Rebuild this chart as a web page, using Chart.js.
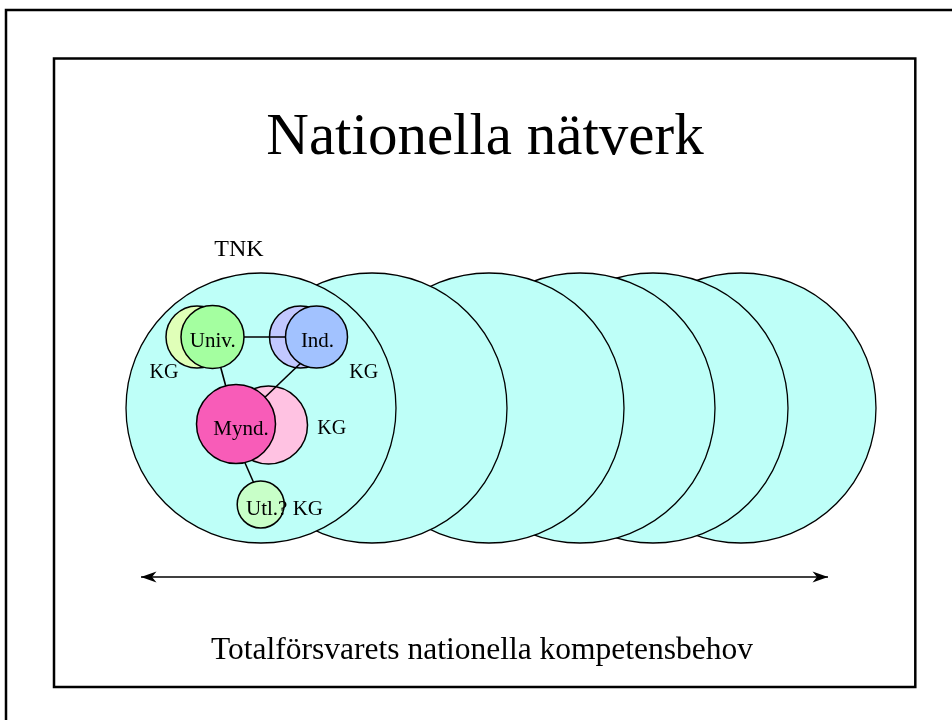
<!DOCTYPE html>
<html><head><meta charset="utf-8">
<script src="https://cdn.jsdelivr.net/npm/chart.js@4/dist/chart.umd.min.js"></script>
<style>html,body{margin:0;padding:0;background:#fff}canvas{display:block}</style>
</head><body>
<canvas id="c" width="952" height="720"></canvas>
<script>
// ---- Data (diagram coordinates, 1 unit = 1 px of a 952x720 slide) ----
// Large TNK competence circles, left to right
const tnkX = [261, 372, 489, 580, 653, 741];
const tnkY = [408, 408, 408, 408, 408, 408];
const tnkR = [135, 135, 135, 135, 135, 135];

// Competence-group circles behind the actors
const backNames = ['Univ. KG', 'Ind. KG', 'Mynd. KG'];
const backX = [197, 300.5, 268.5];
const backY = [337, 337, 425];
const backR = [31, 31, 39];

// Actor circles in front
const frontNames = ['Univ.', 'Ind.', 'Mynd.', 'Utl.?'];
const frontX = [212.5, 316.5, 236, 260.7];
const frontY = [337, 337, 424, 504.5];
const frontR = [31.5, 31, 39.5, 23.5];

// Links between actors
const linkFromX = [212.5, 212.5, 328, 228];
const linkFromY = [337, 337, 337, 424];
const linkToX = [316.5, 236, 237, 263];
const linkToY = [337, 424, 424, 504];

// Double arrow
const arrowX = [141, 828];
const arrowY = [577, 577];

// Text labels
const labelTexts = ['Nationella nätverk', 'TNK', 'Univ.', 'Ind.', 'Mynd.', 'KG', 'KG', 'KG', 'Utl.? KG', 'Totalförsvarets nationella kompetensbehov'];
const labelX = [485, 239, 212.7, 317.5, 241, 164, 363.7, 331.7, 246, 482];
const labelY = [154, 256, 347, 347, 435, 378, 378, 434, 515, 659];
const labelSize = [59, 24, 21, 21, 21, 20, 20, 20, 21, 31.5];
const labelAlign = ['center', 'center', 'center', 'center', 'center', 'center', 'center', 'center', 'left', 'center'];

// ---- Styles ----
const tnkColor = '#BEFFF8';
const backColors = ['#E0FFB8', '#C2C8FF', '#FFC2E2'];
const frontColors = ['#A4FFA0', '#A2C2FF', '#F85CB8', '#C8FFC8'];
const FONT = '"Liberation Serif", "Times New Roman", serif';

const pts = (xs, ys, rs) => xs.map((x, i) => ({x, y: ys[i], r: rs ? rs[i] : 0}));
const tnkPts = pts(tnkX, tnkY, tnkR).reverse(); // leftmost drawn last (on top)

const linkSets = linkFromX.map((x, i) => ({
  type: 'scatter', showLine: true, order: 3,
  data: [{x, y: linkFromY[i]}, {x: linkToX[i], y: linkToY[i]}],
  borderColor: '#000', borderWidth: 1.6, pointRadius: 0
}));

const decor = {
  id: 'decor',
  beforeDatasetsDraw(chart) {
    const {ctx, scales: {x, y}} = chart;
    ctx.save();
    ctx.strokeStyle = '#000';
    ctx.lineWidth = 2.5;
    // outer slide frame (runs off the right and bottom)
    ctx.strokeRect(x.getPixelForValue(6), y.getPixelForValue(10), 1000, 1000);
    // inner frame
    const l = x.getPixelForValue(54), t = y.getPixelForValue(58.5);
    ctx.strokeRect(l, t, x.getPixelForValue(915.3) - l, y.getPixelForValue(687) - t);
    ctx.restore();
  },
  afterDatasetsDraw(chart) {
    const {ctx, scales: {x, y}} = chart;
    ctx.save();
    // arrowheads
    ctx.fillStyle = '#000';
    for (let i = 0; i < 2; i++) {
      const px = x.getPixelForValue(arrowX[i]), py = y.getPixelForValue(arrowY[i]);
      const dir = i === 0 ? 1 : -1;
      ctx.beginPath();
      ctx.moveTo(px, py);
      ctx.lineTo(px + dir * 15.5, py - 5.5);
      ctx.lineTo(px + dir * 11, py);
      ctx.lineTo(px + dir * 15.5, py + 5.5);
      ctx.closePath();
      ctx.fill();
    }
    // labels
    ctx.fillStyle = '#000';
    ctx.textBaseline = 'alphabetic';
    labelTexts.forEach((txt, i) => {
      ctx.font = labelSize[i] + 'px ' + FONT;
      ctx.textAlign = labelAlign[i];
      ctx.fillText(txt, x.getPixelForValue(labelX[i]), y.getPixelForValue(labelY[i]));
    });
    ctx.restore();
  }
};

new Chart(document.getElementById('c'), {
  type: 'bubble',
  data: {
    datasets: [
      {type: 'bubble', label: 'TNK', order: 5, data: tnkPts, clip: false,
       backgroundColor: tnkColor, borderColor: '#000', borderWidth: 1.3},
      {type: 'bubble', label: 'KG', order: 4, data: pts(backX, backY, backR), clip: false,
       backgroundColor: backColors, borderColor: '#000', borderWidth: 1.5},
      ...linkSets,
      {type: 'bubble', label: 'Aktörer', order: 2, data: pts(frontX, frontY, frontR), clip: false,
       backgroundColor: frontColors, borderColor: '#000', borderWidth: 1.5},
      {type: 'scatter', showLine: true, label: 'Kompetensbehov', order: 1,
       data: pts(arrowX, arrowY), borderColor: '#000', borderWidth: 1.5, pointRadius: 0}
    ]
  },
  options: {
    responsive: false,
    animation: false,
    events: [],
    devicePixelRatio: 1,
    layout: {padding: 0, autoPadding: false},
    scales: {
      x: {type: 'linear', min: 0, max: 952, display: false},
      y: {type: 'linear', min: 0, max: 720, reverse: true, display: false}
    },
    plugins: {legend: {display: false}, tooltip: {enabled: false}, title: {display: false}}
  },
  plugins: [decor]
});
</script>
</body></html>
